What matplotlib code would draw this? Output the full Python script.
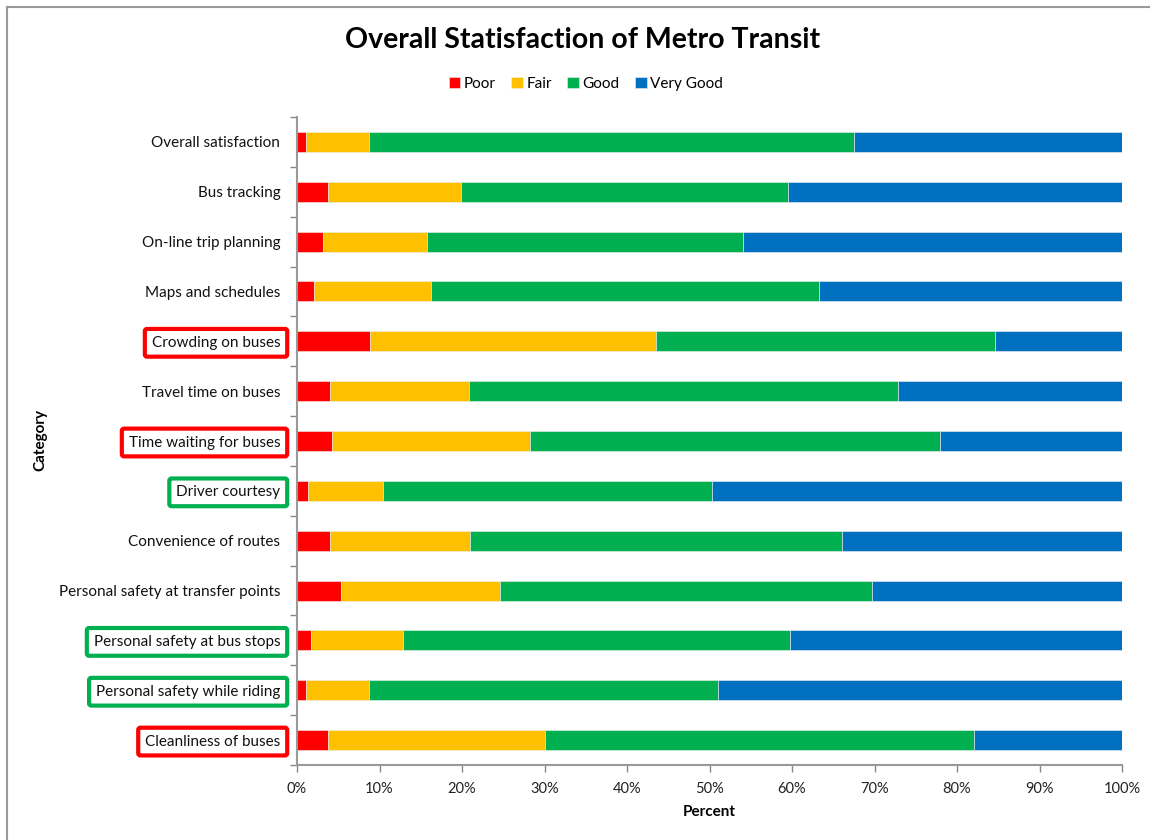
import matplotlib
matplotlib.use("Agg")
import matplotlib.pyplot as plt
import numpy as np

plt.rcParams['font.family'] = ['Lato', 'DejaVu Sans']

categories = [
    "Overall satisfaction",
    "Bus tracking",
    "On-line trip planning",
    "Maps and schedules",
    "Crowding on buses",
    "Travel time on buses",
    "Time waiting for buses",
    "Driver courtesy",
    "Convenience of routes",
    "Personal safety at transfer points",
    "Personal safety at bus stops",
    "Personal safety while riding",
    "Cleanliness of buses",
]
poor      = [1.1, 3.8, 3.2, 2.0, 8.9, 4.0, 4.2, 1.3, 4.0, 5.3, 1.7, 1.1, 3.8]
fair      = [7.6, 16.1, 12.6, 14.2, 34.6, 16.8, 24.0, 9.1, 17.0, 19.3, 11.2, 7.6, 26.2]
good      = [58.8, 39.6, 38.3, 47.1, 41.1, 52.0, 49.7, 39.9, 45.0, 45.1, 46.9, 42.3, 52.1]
very_good = [32.5, 40.5, 45.9, 36.7, 15.4, 27.2, 22.1, 49.7, 34.0, 30.3, 40.2, 49.0, 17.9]
series_names = ["Poor", "Fair", "Good", "Very Good"]
colors = ["#FF0000", "#FFC000", "#00B050", "#0070C0"]
x_ticks = [0, 10, 20, 30, 40, 50, 60, 70, 80, 90, 100]
highlight = {
    "Crowding on buses": "#FF0000",
    "Time waiting for buses": "#FF0000",
    "Cleanliness of buses": "#FF0000",
    "Driver courtesy": "#00B050",
    "Personal safety at bus stops": "#00B050",
    "Personal safety while riding": "#00B050",
}

fig = plt.figure(figsize=(11.5, 8.4), dpi=100)
ax = fig.add_axes([297/1150, 1-765/840, (1122-297)/1150, (765-117)/840])

y = np.arange(len(categories))
left = np.zeros(len(categories))
handles = []
for vals, name, col in zip([poor, fair, good, very_good], series_names, colors):
    h = ax.barh(y, vals, left=left, height=0.4, color=col, label=name,
                edgecolor='#f0f0f0', linewidth=0.4)
    handles.append(h)
    left = left + np.array(vals)

ax.set_xlim(0, 100)
ax.set_ylim(len(categories) - 0.5, -0.5)
ax.set_xticks(x_ticks)
ax.set_xticklabels([f"{v}%" for v in x_ticks], fontsize=10.5, color='#222222')
ax.set_yticks(y)
ax.set_yticklabels(categories, fontsize=11, color='#111111')
ax.set_yticks(np.arange(-0.5, len(categories), 1), minor=True)
ax.tick_params(axis='y', which='major', length=0, pad=12)
ax.tick_params(axis='y', which='minor', length=5, color='#888888', width=1)
ax.tick_params(axis='x', which='major', length=5, color='#888888', width=1, pad=7)

for s in ['top', 'right']:
    ax.spines[s].set_visible(False)
for s in ['left', 'bottom']:
    ax.spines[s].set_color('#999999')
    ax.spines[s].set_linewidth(1.5)

for lbl in ax.get_yticklabels():
    t = lbl.get_text()
    if t in highlight:
        lbl.set_bbox(dict(boxstyle='round,pad=0.45,rounding_size=0.15',
                          facecolor='white', edgecolor=highlight[t], linewidth=3))

ax.set_xlabel("Percent", fontsize=11, fontweight='bold', labelpad=7)
fig.text(40/1150, 1-440/840, "Category", rotation=90, ha='center', va='center',
         fontsize=11, fontweight='bold')

fig.text(583/1150, 1-40/840, "Overall Statisfaction of Metro Transit",
         ha='center', va='center', fontsize=20.5, fontweight='bold')

fig.legend(handles=handles, labels=series_names, loc='center',
           bbox_to_anchor=(586/1150, 1-84/840), ncol=4, frameon=False,
           fontsize=11, handlelength=0.75, handleheight=0.75,
           handletextpad=0.25, columnspacing=1.0)

# outer frame (left and top edges visible in the reference)
fig.add_artist(plt.Line2D([6.5/1150, 6.5/1150], [0, 1-6.5/840], color='#999999', lw=1.5,
                          transform=fig.transFigure))
fig.add_artist(plt.Line2D([6.5/1150, 1], [1-6.5/840, 1-6.5/840], color='#999999', lw=1.5,
                          transform=fig.transFigure))

fig.savefig("out.png", dpi=100, facecolor='white')
